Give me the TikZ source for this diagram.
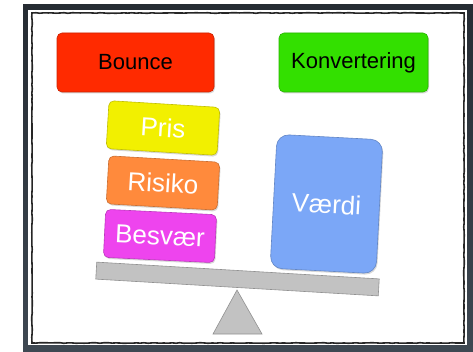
\documentclass[tikz,border=0pt]{standalone}
\usepackage{fontspec}
\setmainfont{Liberation Sans}
\usetikzlibrary{shadows,decorations.pathmorphing}
\definecolor{cRed}{HTML}{FF2A00}
\definecolor{cGreen}{HTML}{33E000}
\definecolor{cYellow}{HTML}{F2F000}
\definecolor{cOrange}{HTML}{FF8A3C}
\definecolor{cMagenta}{HTML}{EE44EE}
\definecolor{cBlue}{HTML}{7BA7F7}
\definecolor{cGray}{HTML}{C2C2C2}
\definecolor{cDarkTop}{HTML}{262C33}
\definecolor{cDarkBot}{HTML}{3E4852}
\begin{document}
\begin{tikzpicture}[x=1pt,y=-1pt,
  box/.style={rectangle, rounded corners=5pt, inner sep=0pt, draw=#1!80!black, fill=#1, line width=0.6pt,
    drop shadow={shadow xshift=1pt, shadow yshift=-1.5pt, opacity=0.3}},
  toptext/.style={font=\fontsize{22pt}{26pt}\selectfont, text=black},
  wtext/.style={font=\fontsize{26pt}{30pt}\selectfont, text=white},
  beamstyle/.style={rectangle, inner sep=0pt, fill=cGray, draw=cGray!75!black, line width=0.6pt}]
\useasboundingbox (0,0) rectangle (473,352);
\fill[white] (0,0) rectangle (473,352);
\shade[top color=cDarkTop, bottom color=cDarkBot] (23,5) rectangle (473,352);
\fill[white] (28,10) rectangle (467,345);
\draw[black!85, line width=1.6pt, decorate, decoration={random steps,segment length=4pt,amplitude=0.3pt}] (32,13) rectangle (464,343);
% top boxes
\node[box=cRed, toptext, minimum width=157pt, minimum height=59pt] (bounce) at (135.5,62.5) {Bounce};
\node[box=cGreen, toptext, minimum width=149pt, minimum height=59pt] (konv) at (353.5,62.5) {Konvertering};
% beam and fulcrum
\draw[fill=cGray, draw=cGray!75!black, line width=0.6pt] (237,290) -- (262,334) -- (213,334) -- cycle;
\node[beamstyle, minimum width=283pt, minimum height=17pt, rotate=-3.4] (beam) at (237.5,279) {};
% stacked boxes
\node[box=cMagenta, wtext, minimum width=111pt, minimum height=48pt, rotate=-2.8] (besvaer) at (160,236) {Besvær};
\node[box=cOrange, wtext, minimum width=111pt, minimum height=48pt, rotate=-3.3] (risiko) at (163,183) {Risiko};
\node[box=cYellow, wtext, minimum width=111pt, minimum height=48pt, rotate=-3.5] (pris) at (163,128) {Pris};
% value box
\node[box=cBlue, wtext, rounded corners=12pt, minimum width=106pt, minimum height=134pt, rotate=-3] (vaerdi) at (326.5,204) {Værdi};
\end{tikzpicture}
\end{document}
